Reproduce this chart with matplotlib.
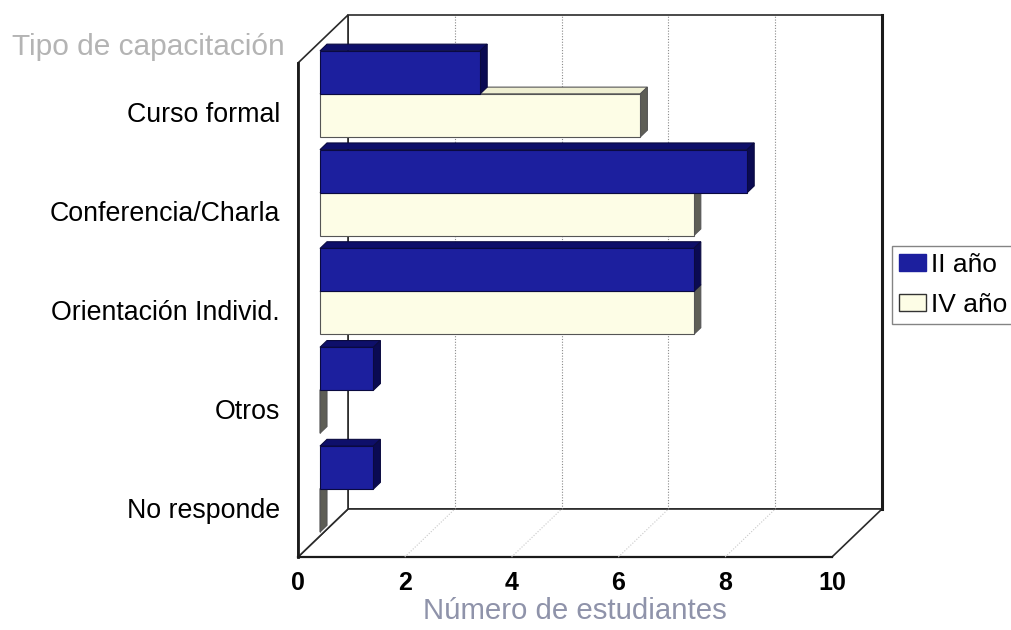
import matplotlib.pyplot as plt
from matplotlib.patches import Polygon, Patch

plt.rcParams['font.family'] = ['Liberation Sans', 'DejaVu Sans']

# datos de la encuesta
categorias = ["Curso formal", "Conferencia/Charla", "Orientación Individ.", "Otros", "No responde"]
ii_anio = [3, 8, 7, 1, 1]
iv_anio = [6, 7, 7, 0, 0]
series = ["II año", "IV año"]
ticks_x = [0, 2, 4, 6, 8, 10]

# proyeccion oblicua: profundidad d (0 = frente, 1 = fondo)
DX = 50 / 53.4     # desplazamiento en unidades de valor
DY = 48 / 98.8     # desplazamiento en unidades de categoria
XMAX = 10
NCAT = len(categorias)


def proj(v, y, d):
    return (v + d * DX, y + d * DY)


def caja(ax, v, y0, y1, d0, d1, c_frente, c_arriba, c_lado, borde, z):
    arriba = [proj(0, y1, d0), proj(v, y1, d0), proj(v, y1, d1), proj(0, y1, d1)]
    lado = [proj(v, y0, d0), proj(v, y0, d1), proj(v, y1, d1), proj(v, y1, d0)]
    frente = [proj(0, y0, d0), proj(v, y0, d0), proj(v, y1, d0), proj(0, y1, d0)]
    for pts, col in [(arriba, c_arriba), (lado, c_lado), (frente, c_frente)]:
        ax.add_patch(Polygon(pts, closed=True, facecolor=col, edgecolor=borde,
                             linewidth=0.8, zorder=z, clip_on=False))


fig = plt.figure(figsize=(10.12, 6.3), dpi=100)
ax = fig.add_axes([298 / 1012, 73 / 630, 534 / 1012, 494 / 630])
ax.set_xlim(0, XMAX)
ax.set_ylim(0, NCAT)

linea = '#2a2a2a'
# pared del fondo, piso y pared izquierda
fondo = [proj(0, 0, 1), proj(XMAX, 0, 1), proj(XMAX, NCAT, 1), proj(0, NCAT, 1)]
piso = [proj(0, 0, 0), proj(XMAX, 0, 0), proj(XMAX, 0, 1), proj(0, 0, 1)]
izq = [proj(0, 0, 0), proj(0, 0, 1), proj(0, NCAT, 1), proj(0, NCAT, 0)]
for pts in (fondo, piso, izq):
    ax.add_patch(Polygon(pts, closed=True, facecolor='white', edgecolor=linea,
                         linewidth=1.2, zorder=0, clip_on=False))
# borde derecho del fondo y arista frontal izquierda mas gruesos
ax.plot(*zip(proj(XMAX, 0, 1), proj(XMAX, NCAT, 1)), color='#1a1a1a', lw=2.2,
        zorder=1, clip_on=False)
ax.plot(*zip(proj(0, 0, 0), proj(0, NCAT, 0)), color='#1a1a1a', lw=2,
        zorder=1, clip_on=False)
ax.plot(*zip(proj(0, 0, 0), proj(XMAX, 0, 0)), color='#1a1a1a', lw=1.6,
        zorder=1, clip_on=False)

# lineas de division
for t in ticks_x[1:-1]:
    ax.plot(*zip(proj(t, 0, 1), proj(t, NCAT, 1)), color='#8a8a8a', lw=0.8,
            ls=(0, (1, 1.5)), zorder=1, clip_on=False)
    ax.plot(*zip(proj(t, 0, 0), proj(t, 0, 1)), color='#c8c8c8', lw=0.8,
            ls=(0, (1, 1.5)), zorder=1, clip_on=False)

# barras
alto = 0.435
d0, d1 = 0.44, 0.58
azul = ('#1c1f9e', '#0e0f6a', '#0a0a52', '#0a0a40')
crema = ('#fdfde6', '#efefd2', '#5e5e56', '#555555')
for i in range(NCAT - 1, -1, -1):
    c = NCAT - 0.5 - i - 0.026
    caja(ax, iv_anio[i], c - alto, c, d0, d1, *crema, z=2 + (NCAT - i) * 2)
    caja(ax, ii_anio[i], c, c + alto, d0, d1, *azul, z=3 + (NCAT - i) * 2)

for s in ax.spines.values():
    s.set_visible(False)
ax.set_xticks(ticks_x)
ax.set_xticklabels([str(t) for t in ticks_x], fontsize=18, fontweight='bold')
ax.set_yticks([NCAT - 0.5 - i for i in range(NCAT)])
ax.set_yticklabels(categorias, fontsize=19.3)
ax.tick_params(axis='x', length=0, pad=10)
ax.tick_params(axis='y', length=0, pad=13)

fig.text(148 / 1012, 1 - 47 / 630, "Tipo de capacitación", ha='center', va='center',
         fontsize=21.5, color='#b4b4b4')
fig.text(575 / 1012, 1 - 611 / 630, "Número de estudiantes", ha='center', va='center',
         fontsize=21.2, color='#8f93aa')

handles = [Patch(facecolor=azul[0], edgecolor=azul[0]),
           Patch(facecolor=crema[0], edgecolor='#333333')]
leg = fig.legend(handles, series, loc='upper left',
                 bbox_to_anchor=(892 / 1012, 1 - 246 / 630), fontsize=19,
                 frameon=True, fancybox=False, edgecolor='#666666',
                 handlelength=1.0, handleheight=0.6, handletextpad=0.2,
                 labelspacing=0.6, borderpad=0.27, borderaxespad=0)
leg.get_frame().set_linewidth(1)

fig.savefig('out.png', dpi=100)
